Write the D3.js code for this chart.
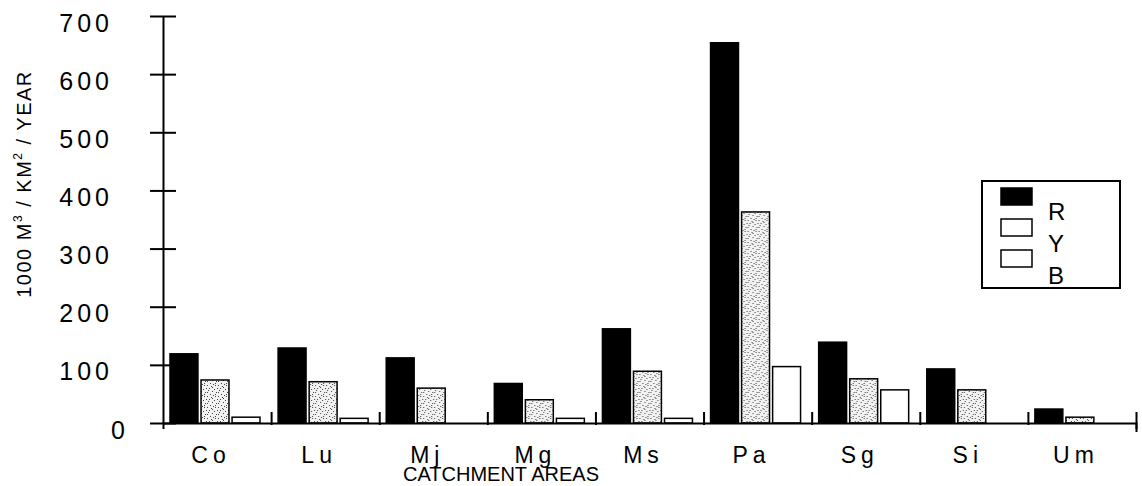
<!DOCTYPE html>
<html lang="en">
<head>
    <meta charset="UTF-8">
    <title>Catchment areas</title>
    <script src="https://d3js.org/d3.v7.min.js"></script>
    <style>
        body {
            margin: 0;
            padding: 0;
            background-color: #ffffff;
            font-family: Arial, "Liberation Sans", sans-serif;
        }
        .axis path, .axis line {
            stroke: #000;
            stroke-width: 2px;
        }
    </style>
</head>
<body>
    <div id="chart"></div>
    <script>
        // Data
        const categories = ["Co", "Lu", "Mj", "Mg", "Ms", "Pa", "Sg", "Si", "Um"];
        const seriesNames = ["R", "Y", "B"];
        const valuesR = [119, 129, 112, 68, 162, 654, 139, 93, 24];
        const valuesY = [74, 71, 60, 40, 89, 363, 76, 57, 10];
        const valuesB = [10, 8, 0, 8, 8, 97, 57, 0, 0];
        const yTicks = [0, 100, 200, 300, 400, 500, 600, 700];

        const width = 1142, height = 486;
        const plot = {left: 163, right: 1136, top: 16, bottom: 423};

        const data = categories.map((c, i) => ({cat: c, R: valuesR[i], Y: valuesY[i], B: valuesB[i]}));

        const svg = d3.select("#chart").append("svg")
            .attr("width", width)
            .attr("height", height);

        // stipple pattern for the Y bars (fixed dot layout)
        const defs = svg.append("defs");
        const pat = defs.append("pattern")
            .attr("id", "stipple")
            .attr("patternUnits", "userSpaceOnUse")
            .attr("width", 11).attr("height", 11);
        pat.append("rect").attr("width", 11).attr("height", 11).attr("fill", "#f2f2f2");
        [[0, 0], [4, 1], [8, 0], [2, 3], [7, 4], [10, 3], [5, 6], [0, 7], [9, 7],
         [3, 9], [6, 10], [1, 5], [8, 9], [5, 2]].forEach(p => {
            pat.append("rect").attr("x", p[0]).attr("y", p[1])
                .attr("width", 1).attr("height", 1).attr("fill", "#444");
        });

        const x = d3.scaleBand().domain(categories).range([plot.left, plot.right]).padding(0);
        const xSub = d3.scaleBand().domain(seriesNames).range([7, 97]).paddingInner(0.1);
        const y = d3.scaleLinear().domain([0, 700]).range([plot.bottom, plot.top]);
        const xEdge = d3.scaleLinear().domain([0, categories.length]).range([plot.left, plot.right]);

        const fills = {R: "#000", Y: "url(#stipple)", B: "#fff"};

        // bars
        const groups = svg.append("g").selectAll("g")
            .data(data)
            .enter().append("g")
            .attr("transform", d => `translate(${x(d.cat)},0)`);

        groups.selectAll("rect")
            .data(d => seriesNames.map(k => ({key: k, value: d[k]})).filter(e => e.value > 0))
            .enter().append("rect")
            .attr("x", d => xSub(d.key))
            .attr("y", d => y(d.value))
            .attr("width", xSub.bandwidth())
            .attr("height", d => y(0) - y(d.value))
            .attr("fill", d => fills[d.key])
            .attr("stroke", "#000")
            .attr("stroke-width", 1.5);

        // y axis
        const yAxis = svg.append("g")
            .attr("class", "axis")
            .attr("transform", `translate(${plot.left},0)`)
            .call(d3.axisLeft(y).tickValues(yTicks).tickSizeInner(13).tickSizeOuter(0));
        yAxis.selectAll(".tick line").attr("x1", 13);
        yAxis.selectAll(".tick text")
            .attr("font-size", 25)
            .attr("font-family", "Arial, 'Liberation Sans', sans-serif")
            .attr("letter-spacing", "4px")
            .attr("fill", "#000")
            .attr("x", d => d === 0 ? -34 : -50)
            .attr("y", 7);

        // x axis with ticks on the category edges
        const xAxis = svg.append("g")
            .attr("class", "axis")
            .attr("transform", `translate(0,${plot.bottom})`)
            .call(d3.axisBottom(xEdge).tickValues(d3.range(1, categories.length + 1)).tickFormat("").tickSizeOuter(0).tickSize(6));
        xAxis.selectAll(".tick line").attr("y1", -11).attr("y2", d => d === categories.length ? 9 : 2);

        // category labels
        svg.append("g").selectAll("text")
            .data(categories)
            .enter().append("text")
            .attr("x", d => x(d) + x.bandwidth() / 2 - 6)
            .attr("y", 463)
            .attr("text-anchor", "middle")
            .attr("font-size", 23)
            .attr("letter-spacing", "5px")
            .text(d => d);

        svg.append("text")
            .attr("x", 501)
            .attr("y", 481)
            .attr("text-anchor", "middle")
            .attr("font-size", 20)
            .text("CATCHMENT AREAS");

        // y label
        const yLabel = svg.append("text")
            .attr("transform", "translate(31,184) rotate(-90)")
            .attr("text-anchor", "middle")
            .attr("font-size", 20)
            .attr("letter-spacing", "1.5px");
        yLabel.append("tspan").text("1000 M");
        yLabel.append("tspan").attr("font-size", 12).attr("dy", -9).text("3");
        yLabel.append("tspan").attr("dy", 9).text(" / KM");
        yLabel.append("tspan").attr("font-size", 12).attr("dy", -9).text("2");
        yLabel.append("tspan").attr("dy", 9).text(" / YEAR");

        // legend
        const legend = svg.append("g").attr("transform", "translate(982,181)");
        legend.append("rect")
            .attr("width", 138).attr("height", 107)
            .attr("fill", "none").attr("stroke", "#000").attr("stroke-width", 2);
        const legendFills = {R: "#000", Y: "#fff", B: "#fff"};
        seriesNames.forEach((k, i) => {
            legend.append("rect")
                .attr("x", 19).attr("y", 7 + i * 31)
                .attr("width", 31).attr("height", 17)
                .attr("fill", legendFills[k])
                .attr("stroke", "#000").attr("stroke-width", 1.5);
            legend.append("text")
                .attr("x", 66).attr("y", 39 + i * 32)
                .attr("font-size", 24)
                .text(k);
        });
    </script>
</body>
</html>
